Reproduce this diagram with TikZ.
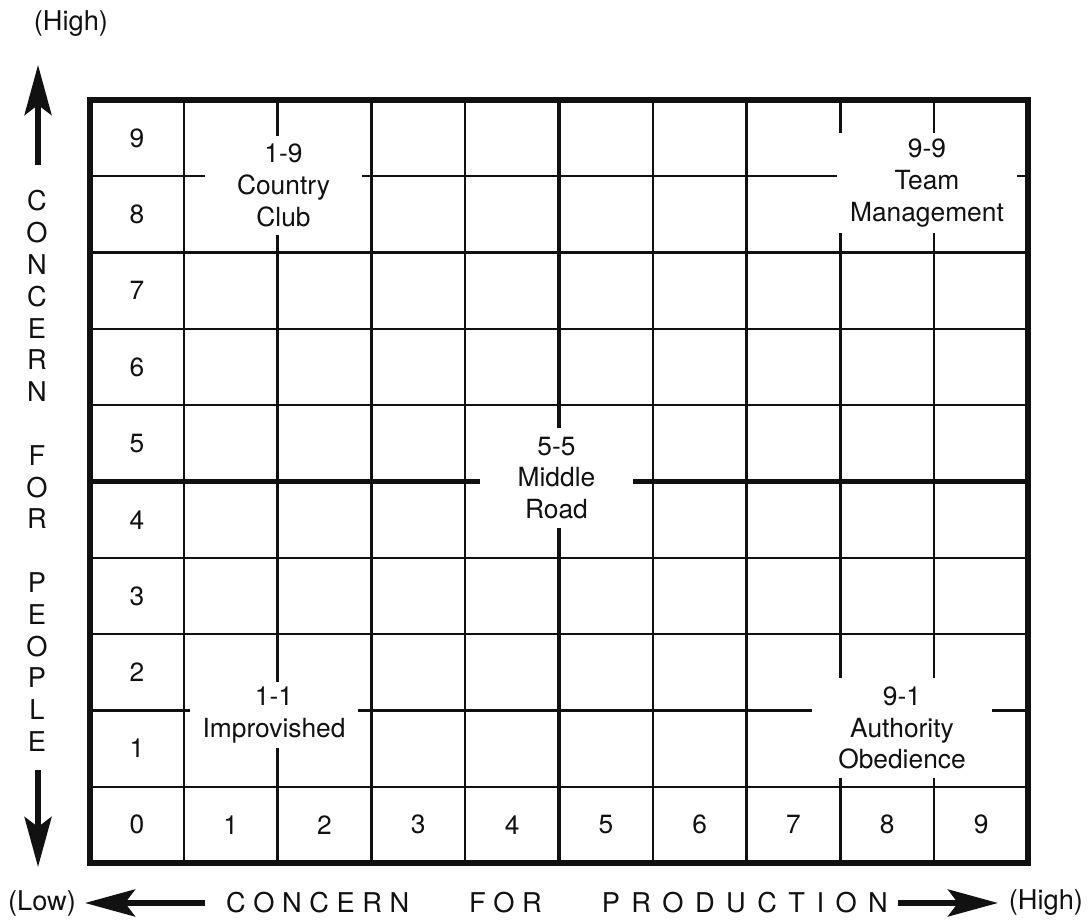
\documentclass[tikz,border=0pt]{standalone}
\usepackage{fontspec}
\setmainfont{TeX Gyre Heros}
\usetikzlibrary{arrows.meta}
\definecolor{tinte}{HTML}{111111}
\tikzset{
  gitter/.style={tinte,line width=1.3pt},
  mitte/.style={tinte,line width=2.6pt},
  rahmen/.style={tinte,line width=2.9pt},
  pfeil/.style={-{Stealth[length=10mm,width=5.4mm,inset=2mm]},tinte,line width=3pt},
  zahl/.style={text=tinte,font=\fontsize{15}{18}\selectfont},
  feld/.style={fill=white,text=tinte,align=center,inner sep=0pt,font=\fontsize{15}{18.1}\selectfont},
  achstext/.style={text=tinte,align=center,font=\fontsize{15.5}{18.1}\selectfont},
}
\newcommand{\ls}{\hspace{0.42em}}

\begin{document}
\begin{tikzpicture}[x=1.876cm,y=1.526cm]
  \useasboundingbox (-0.9595,-0.747) rectangle (10.640,11.311);
  % Gitter 10 x 10
  \foreach \i in {1,...,9} {
    \draw[gitter] (\i,0) -- (\i,10);
    \draw[gitter] (0,\i) -- (10,\i);
  }
  \draw[mitte] (5,0) -- (5,10);
  \draw[mitte] (0,5) -- (10,5);
  \draw[rahmen] (0,0) rectangle (10,10);
  % Skalen
  \foreach \z in {1,...,9}
    \node[zahl] (l\z) at (0.5,\z+0.5) {\z};
  \foreach \z in {0,...,9}
    \node[zahl] (u\z) at (\z+0.5,0.5) {\z};
  % Stile
  \node[feld,minimum width=3.14cm,minimum height=1.98cm] (cc) at (2.063,8.879) {1-9\\Country\\Club};
  \node[feld,minimum width=3.6cm,minimum height=2.0cm] (tm) at (8.923,8.912) {9-9\\Team\\Management};
  \node[feld,minimum width=3.06cm,minimum height=2.0cm] (mr) at (4.973,5.046) {5-5\\Middle\\Road};
  \node[feld,minimum width=3.36cm,minimum height=1.32cm] (im) at (1.962,1.940) {1-1\\Improvished};
  \node[feld,minimum width=3.6cm,minimum height=2.0cm] (ao) at (8.657,1.769) {9-1\\Authority\\Obedience};
  % Achsen
  \node[achstext] (hoch) at (-0.203,10.996) {(High)};
  \node[achstext] (leute) at (-0.565,5.138)
    {C\\O\\N\\C\\E\\R\\N\\[18.1pt]F\\O\\R\\[18.1pt]P\\E\\O\\P\\L\\E};
  \node[achstext] (tief) at (-0.512,-0.524) {(Low)};
  \node[achstext] (prod) at (4.979,-0.524)
    {C O N C E R N\hspace{2.2em}F O R\hspace{2.2em}P\ls R\ls O\ls D\ls U\ls C\ls T\ls I\ls O\ls N};
  \node[achstext] (hoch2) at (10.192,-0.524) {(High)};
  \coordinate (o1) at (-0.554,9.148);
  \coordinate (o2) at (-0.554,10.459);
  \coordinate (n1) at (-0.554,1.219);
  \coordinate (n2) at (-0.554,-0.052);
  \coordinate (w1) at (1.226,-0.524);
  \coordinate (w2) at (-0.053,-0.524);
  \coordinate (e1) at (8.614,-0.524);
  \coordinate (e2) at (9.680,-0.524);
  \draw[pfeil] (o1) -- (o2);
  \draw[pfeil] (n1) -- (n2);
  \draw[pfeil] (w1) -- (w2);
  \draw[pfeil] (e1) -- (e2);
\end{tikzpicture}
\end{document}
